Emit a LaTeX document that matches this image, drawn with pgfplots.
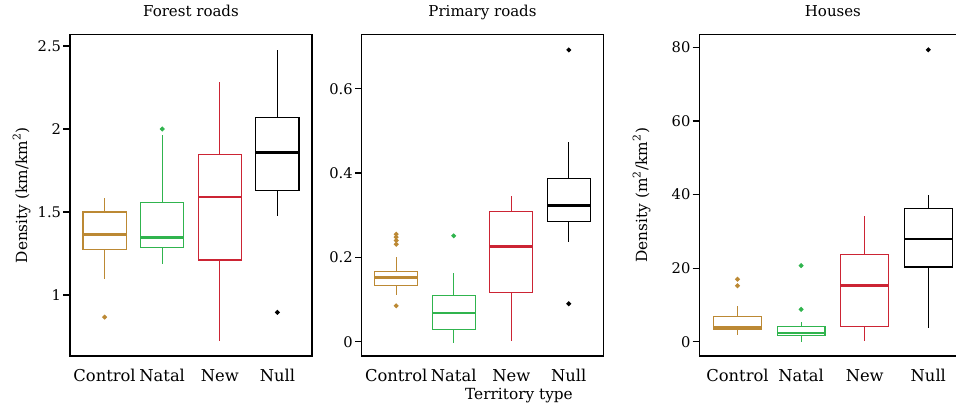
\documentclass[border=0pt]{standalone}
\usepackage{fontspec}
\setmainfont{DejaVu Serif}
\usepackage{pgfplots}
\pgfplotsset{compat=1.18}
\usepgfplotslibrary{statistics}

\definecolor{ochre}{RGB}{188,137,52}
\definecolor{natal}{RGB}{48,180,78}
\definecolor{newred}{RGB}{204,36,52}

\pgfplotsset{
  panel/.style={
    scale only axis,
    height=193pt,
    xmin=0.4, xmax=4.6,
    xtick={1,2,3,4},
    xticklabels={Control,Natal,New,Null},
    xtick style={draw=none},
    tick align=outside,
    ytick pos=left,
    major tick length=4pt,
    axis line style={line width=0.75pt},
    ytick style={line width=0.75pt, black},
    /pgf/number format/assume math mode=true,
    xticklabel style={font=\fontsize{9.8}{11}\selectfont, anchor=base, yshift=-11.4pt},
    yticklabel style={font=\fontsize{8.8}{10}\selectfont, inner sep=1.2pt},
    title style={font=\fontsize{9}{10}\selectfont, at={(axis description cs:0.5,1)}, anchor=base, yshift=4.6pt},
    ylabel style={font=\fontsize{9.2}{10}\selectfont, anchor=center},
    boxplot/draw direction=y,
    boxplot/box extend=0.75,
    boxplot/whisker extend=0,
    boxplot/every box/.style={line width=0.65pt},
    boxplot/every whisker/.style={line width=0.65pt},
    boxplot/every median/.style={line width=1.6pt},
  },
  bx/.style={#1, solid, line width=0.65pt, mark=*, mark size=1.1pt, mark options={fill=#1, draw=#1}},
}

\begin{document}
\begin{tikzpicture}
% Forest roads
\begin{axis}[panel, at={(42pt,28.2pt)}, anchor=south west, width=145.2pt,
  ymin=0.633, ymax=2.57,
  ytick={1,1.5,2,2.5}, yticklabels={1,1.5,2,2.5},
  title={Forest roads},
  ylabel={Density (km/km\textsuperscript{2})},
  ylabel style={at={(axis description cs:-0.2,0.5)}}]
\addplot[bx=ochre, boxplot prepared={draw position=1, lower whisker=1.096, lower quartile=1.277,
  median=1.366, upper quartile=1.5, upper whisker=1.587}] coordinates {(0,0.867)};
\addplot[bx=natal, boxplot prepared={draw position=2, lower whisker=1.189, lower quartile=1.287,
  median=1.348, upper quartile=1.558, upper whisker=1.962}] coordinates {(0,2.0)};
\addplot[bx=newred, boxplot prepared={draw position=3, lower whisker=0.721, lower quartile=1.211,
  median=1.59, upper quartile=1.848, upper whisker=2.285}] coordinates {};
\addplot[bx=black, boxplot prepared={draw position=4, lower whisker=1.478, lower quartile=1.627,
  median=1.86, upper quartile=2.069, upper whisker=2.474}] coordinates {(0,0.896)};
\end{axis}

% Primary roads
\begin{axis}[panel, at={(217pt,28.2pt)}, anchor=south west, width=145pt,
  ymin=-0.034, ymax=0.729,
  ytick={0,0.2,0.4,0.6}, yticklabels={0,0.2,0.4,0.6},
  title={Primary roads},
  xlabel={Territory type},
  xlabel style={font=\fontsize{9.2}{10}\selectfont, at={(axis description cs:0.651,0)}, anchor=base, yshift=-25.8pt}]
\addplot[bx=ochre, boxplot prepared={draw position=1, lower whisker=0.110, lower quartile=0.133,
  median=0.153, upper quartile=0.166, upper whisker=0.2016}]
  coordinates {(0,0.255) (0,0.248) (0,0.240) (0,0.231) (0,0.085)};
\addplot[bx=natal, boxplot prepared={draw position=2, lower whisker=-0.004, lower quartile=0.029,
  median=0.068, upper quartile=0.110, upper whisker=0.164}] coordinates {(0,0.251)};
\addplot[bx=newred, boxplot prepared={draw position=3, lower whisker=0.002, lower quartile=0.116,
  median=0.225, upper quartile=0.308, upper whisker=0.3455}] coordinates {};
\addplot[bx=black, boxplot prepared={draw position=4, lower whisker=0.236, lower quartile=0.2846,
  median=0.323, upper quartile=0.388, upper whisker=0.473}] coordinates {(0,0.692) (0,0.090)};
\end{axis}

% Houses
\begin{axis}[panel, at={(419.6pt,28.2pt)}, anchor=south west, width=160.3pt,
  ymin=-3.9, ymax=83.6,
  ytick={0,20,40,60,80}, yticklabels={0,20,40,60,80},
  title={Houses},
  ylabel={Density (m\textsuperscript{2}/km\textsuperscript{2})},
  ylabel style={at={(axis description cs:-0.216,0.5)}}]
\addplot[bx=ochre, boxplot prepared={draw position=1, lower whisker=1.9, lower quartile=3.4,
  median=3.8, upper quartile=6.8, upper whisker=9.7}] coordinates {(0,17.0) (0,15.2)};
\addplot[bx=natal, boxplot prepared={draw position=2, lower whisker=0, lower quartile=1.8,
  median=2.4, upper quartile=4.1, upper whisker=5.4}] coordinates {(0,20.7) (0,8.8)};
\addplot[bx=newred, boxplot prepared={draw position=3, lower whisker=0.2, lower quartile=4.2,
  median=15.2, upper quartile=23.8, upper whisker=34.3}] coordinates {};
\addplot[bx=black, boxplot prepared={draw position=4, lower whisker=3.6, lower quartile=20.3,
  median=27.9, upper quartile=36.1, upper whisker=40.0}] coordinates {(0,79.4)};
\end{axis}

\pgfresetboundingbox
\path[use as bounding box] (0,0) rectangle (573.6pt,241.8pt);
\end{tikzpicture}
\end{document}
